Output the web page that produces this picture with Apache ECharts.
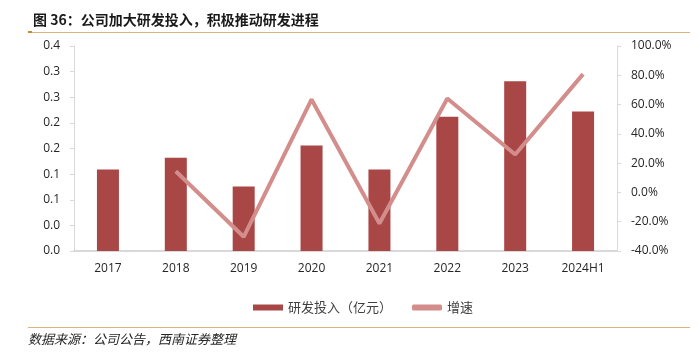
<!DOCTYPE html>
<html>
<head>
<meta charset="utf-8">
<script src="https://cdn.jsdelivr.net/npm/echarts@6/dist/echarts.min.js"></script>
<style>
  html,body{margin:0;padding:0;background:#fff;}
  #chart{width:698px;height:353px;}
</style>
</head>
<body>
<div id="chart"></div>
<script>
var categories = ['2017', '2018', '2019', '2020', '2021', '2022', '2023', '2024H1'];
var rdInvest = [0.159, 0.182, 0.126, 0.206, 0.159, 0.262, 0.331, 0.272];
var growth = [null, 14.5, -30.3, 63.5, -21.2, 64.2, 25.9, 80.8];
var leftTickLabels = ['0.0', '0.0', '0.1', '0.1', '0.2', '0.2', '0.3', '0.3', '0.4'];

var myChart = echarts.init(document.getElementById('chart'));
var axisFont = {color: '#262626', fontSize: 12, fontFamily: 'Open Sans, sans-serif'};
var cjk = '"Noto Sans CJK SC", sans-serif';

var option = {
    animation: false,
    title: {
        text: '图 36：公司加大研发投入，积极推动研发进程',
        left: 28,
        top: 8,
        textStyle: {fontSize: 14, fontWeight: 'bold', color: '#1a1a1a', fontFamily: cjk}
    },
    graphic: [
        {type: 'rect', shape: {x: 28, y: 32, width: 662, height: 1}, style: {fill: '#D9B57E'}},
        {type: 'rect', shape: {x: 28, y: 31, width: 4, height: 2}, style: {fill: '#C98A2E'}},
        {type: 'rect', shape: {x: 28, y: 327, width: 662, height: 1}, style: {fill: '#D9B57E'}},
        {
            type: 'text', left: 28, top: 333,
            style: {text: '数据来源：公司公告，西南证券整理', fill: '#262626', font: 'italic 13px ' + cjk}
        }
    ],
    legend: {
        top: 296,
        left: 248,
        itemGap: 20,
        itemWidth: 30,
        itemHeight: 6,
        selectedMode: false,
        textStyle: {fontSize: 13, color: '#404040', fontFamily: cjk},
        data: [
            {name: '研发投入（亿元）', icon: 'rect'},
            {name: '增速', icon: 'roundRect'}
        ]
    },
    grid: {left: 74, right: 81, top: 46, bottom: 102},
    xAxis: {
        type: 'category',
        data: categories,
        axisLine: {lineStyle: {color: '#D9D9D9', width: 2}},
        axisTick: {show: false},
        axisLabel: Object.assign({margin: 12}, axisFont)
    },
    yAxis: [
        {
            type: 'value',
            min: 0, max: 0.4, interval: 0.05,
            axisLine: {show: true, lineStyle: {color: '#D9D9D9'}},
            axisTick: {show: true, length: 4, lineStyle: {color: '#D9D9D9'}},
            splitLine: {show: false},
            axisLabel: Object.assign({
                margin: 14,
                formatter: function (v) { return leftTickLabels[Math.round(v / 0.05)]; }
            }, axisFont)
        },
        {
            type: 'value',
            min: -40, max: 100, interval: 20,
            axisLine: {show: true, lineStyle: {color: '#D9D9D9'}},
            axisTick: {show: true, length: 4, lineStyle: {color: '#D9D9D9'}},
            splitLine: {show: false},
            axisLabel: Object.assign({
                margin: 14,
                formatter: function (v) { return v.toFixed(1) + '%'; }
            }, axisFont)
        }
    ],
    series: [
        {
            name: '研发投入（亿元）',
            type: 'bar',
            data: rdInvest,
            barWidth: 22,
            itemStyle: {color: '#A94646'}
        },
        {
            name: '增速',
            type: 'line',
            yAxisIndex: 1,
            data: growth,
            symbol: 'none',
            lineStyle: {color: '#D38D8B', width: 4},
            itemStyle: {color: '#D38D8B'}
        }
    ]
};
myChart.setOption(option);
</script>
</body>
</html>
